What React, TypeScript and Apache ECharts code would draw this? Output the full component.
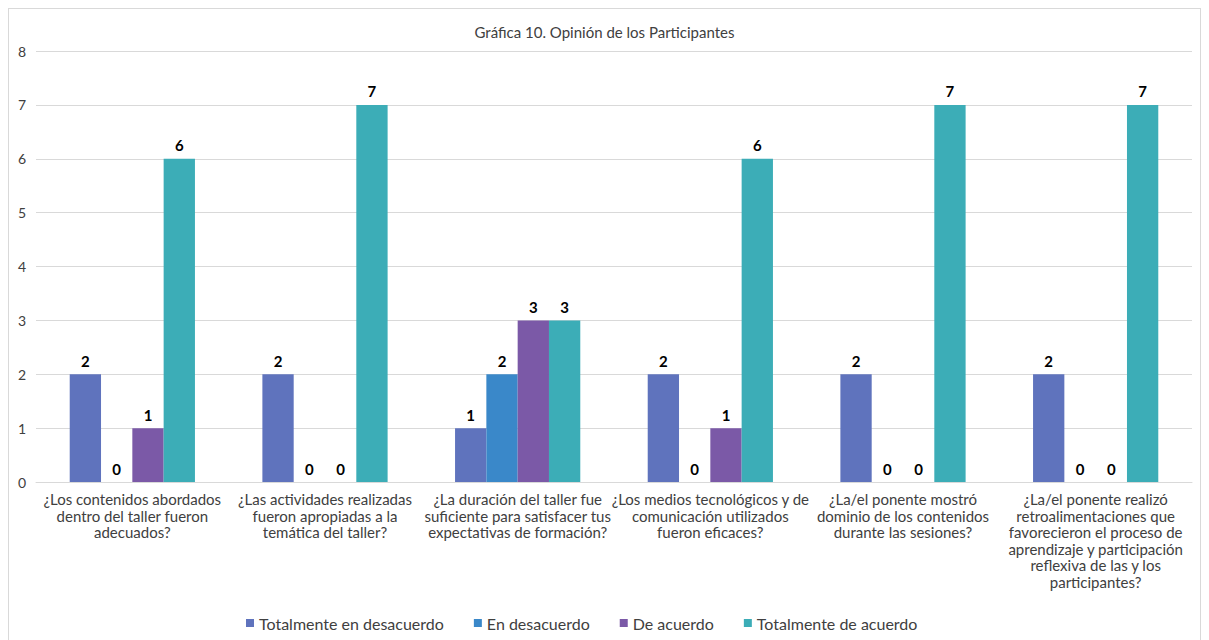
import React, { useEffect, useRef } from "react";
import * as echarts from "echarts";

const categories = [
  "¿Los contenidos abordados\ndentro del taller fueron\nadecuados?",
  "¿Las actividades realizadas\nfueron apropiadas a la\ntemática del taller?",
  "¿La duración del taller fue\nsuficiente para satisfacer tus\nexpectativas de formación?",
  "¿Los medios tecnológicos y de\ncomunicación utilizados\nfueron eficaces?",
  "¿La/el ponente mostró\ndominio de los contenidos\ndurante las sesiones?",
  "¿La/el ponente realizó\nretroalimentaciones que\nfavorecieron el proceso de\naprendizaje y participación\nreflexiva de las y los\nparticipantes?",
];
const seriesNames = [
  "Totalmente en desacuerdo",
  "En desacuerdo",
  "De acuerdo",
  "Totalmente de acuerdo",
];
const totalDesacuerdo = [2, 2, 1, 2, 2, 2];
const enDesacuerdo = [0, 0, 2, 0, 0, 0];
const deAcuerdo = [1, 0, 3, 1, 0, 0];
const totalAcuerdo = [6, 7, 3, 6, 7, 7];
const colors = ["#5f73bd", "#3a88c9", "#7b59a7", "#3cadb7"];
const title = "Gráfica 10. Opinión de los Participantes";

export default function App() {
  const ref = useRef<HTMLDivElement>(null);
  useEffect(() => {
    if (!ref.current) return;
    const chart = echarts.init(ref.current, null, { renderer: "svg" });
    const font = "Lato, 'Open Sans', sans-serif";
    const data = [totalDesacuerdo, enDesacuerdo, deAcuerdo, totalAcuerdo];
    chart.setOption({
      animation: false,
      textStyle: { fontFamily: font },
      title: {
        text: title,
        left: "center",
        top: 10,
        textStyle: { fontSize: 15, fontWeight: "normal", color: "#404040", fontFamily: font },
      },
      legend: {
        bottom: 13,
        left: 232,
        itemWidth: 8,
        itemHeight: 8,
        itemGap: 30,
        icon: "rect",
        textStyle: { fontSize: 16, color: "#404040", fontFamily: font },
        data: seriesNames,
      },
      grid: { left: 27, right: 8, top: 42, bottom: 167 },
      xAxis: {
        type: "category",
        data: categories,
        axisTick: { show: false },
        axisLine: { lineStyle: { color: "#d9d9d9" } },
        axisLabel: {
          interval: 0,
          color: "#404040",
          fontSize: 15,
          lineHeight: 16.5,
          margin: 9,
          fontFamily: font,
        },
      },
      yAxis: {
        type: "value",
        min: 0,
        max: 8,
        interval: 1,
        axisLabel: { color: "#404040", fontSize: 14, margin: 10, fontFamily: font },
        splitLine: { lineStyle: { color: "#d9d9d9" } },
        axisLine: { show: false },
        axisTick: { show: false },
      },
      series: data.map((d, i) => ({
        name: seriesNames[i],
        type: "bar",
        data: d,
        barGap: "0%",
        barCategoryGap: "35%",
        itemStyle: { color: colors[i] },
        label: {
          show: true,
          position: "top",
          distance: 6,
          color: "#000",
          fontWeight: "bold",
          fontSize: 15,
          fontFamily: font,
        },
      })),
    });
    return () => chart.dispose();
  }, []);
  return (
    <div
      ref={ref}
      style={{
        width: 1191,
        height: 640,
        borderTop: "1px solid #d9d9d9",
        borderLeft: "1px solid #d9d9d9",
        borderRight: "1px solid #d9d9d9",
      }}
    />
  );
}
